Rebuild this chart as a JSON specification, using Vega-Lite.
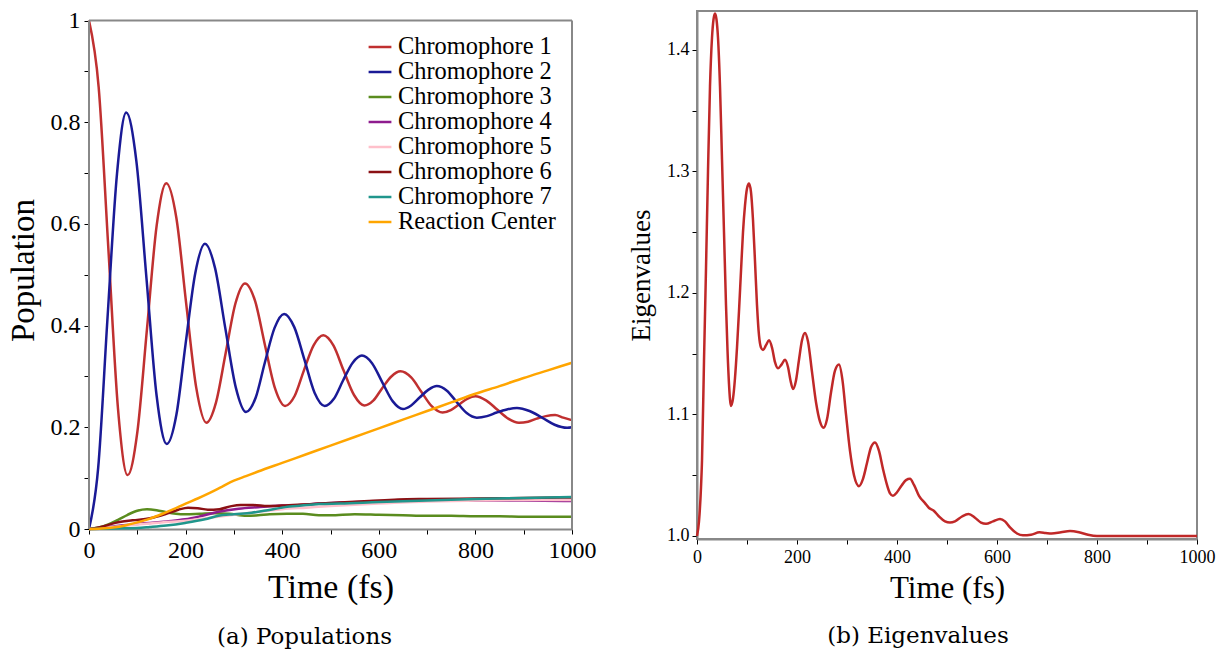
{
"$schema": "https://vega.github.io/schema/vega-lite/v6.json",
"padding": {"left": 7, "top": 7, "right": 0, "bottom": 0},
"resolve": {"legend": {"color": "independent"}, "scale": {"x": "independent", "y": "independent", "color": "independent"}},
"datasets": {
"pop": [
{"t":0,"v":1.0,"s":"Chromophore 1"},{"t":20,"v":0.869,"s":"Chromophore 1"},{"t":40,"v":0.553,"s":"Chromophore 1"},{"t":60,"v":0.237,"s":"Chromophore 1"},{"t":80,"v":0.106,"s":"Chromophore 1"},{"t":100,"v":0.19,"s":"Chromophore 1"},{"t":120,"v":0.393,"s":"Chromophore 1"},{"t":140,"v":0.596,"s":"Chromophore 1"},{"t":160,"v":0.68,"s":"Chromophore 1"},{"t":181,"v":0.611,"s":"Chromophore 1"},{"t":201,"v":0.445,"s":"Chromophore 1"},{"t":222,"v":0.278,"s":"Chromophore 1"},{"t":243,"v":0.209,"s":"Chromophore 1"},{"t":263,"v":0.249,"s":"Chromophore 1"},{"t":283,"v":0.346,"s":"Chromophore 1"},{"t":303,"v":0.443,"s":"Chromophore 1"},{"t":323,"v":0.483,"s":"Chromophore 1"},{"t":344,"v":0.448,"s":"Chromophore 1"},{"t":364,"v":0.363,"s":"Chromophore 1"},{"t":385,"v":0.277,"s":"Chromophore 1"},{"t":406,"v":0.242,"s":"Chromophore 1"},{"t":426,"v":0.262,"s":"Chromophore 1"},{"t":445,"v":0.312,"s":"Chromophore 1"},{"t":465,"v":0.361,"s":"Chromophore 1"},{"t":485,"v":0.381,"s":"Chromophore 1"},{"t":506,"v":0.361,"s":"Chromophore 1"},{"t":527,"v":0.312,"s":"Chromophore 1"},{"t":549,"v":0.263,"s":"Chromophore 1"},{"t":570,"v":0.243,"s":"Chromophore 1"},{"t":589,"v":0.253,"s":"Chromophore 1"},{"t":607,"v":0.277,"s":"Chromophore 1"},{"t":626,"v":0.3,"s":"Chromophore 1"},{"t":645,"v":0.31,"s":"Chromophore 1"},{"t":667,"v":0.298,"s":"Chromophore 1"},{"t":688,"v":0.27,"s":"Chromophore 1"},{"t":710,"v":0.241,"s":"Chromophore 1"},{"t":732,"v":0.229,"s":"Chromophore 1"},{"t":749,"v":0.234,"s":"Chromophore 1"},{"t":766,"v":0.245,"s":"Chromophore 1"},{"t":783,"v":0.256,"s":"Chromophore 1"},{"t":800,"v":0.261,"s":"Chromophore 1"},{"t":822,"v":0.253,"s":"Chromophore 1"},{"t":845,"v":0.235,"s":"Chromophore 1"},{"t":868,"v":0.217,"s":"Chromophore 1"},{"t":890,"v":0.209,"s":"Chromophore 1"},{"t":909,"v":0.211,"s":"Chromophore 1"},{"t":927,"v":0.217,"s":"Chromophore 1"},{"t":946,"v":0.222,"s":"Chromophore 1"},{"t":965,"v":0.224,"s":"Chromophore 1"},{"t":982,"v":0.219,"s":"Chromophore 1"},{"t":1000,"v":0.214,"s":"Chromophore 1"},
{"t":0,"v":0.0,"s":"Chromophore 2"},{"t":19,"v":0.12,"s":"Chromophore 2"},{"t":38,"v":0.41,"s":"Chromophore 2"},{"t":58,"v":0.699,"s":"Chromophore 2"},{"t":77,"v":0.819,"s":"Chromophore 2"},{"t":98,"v":0.724,"s":"Chromophore 2"},{"t":119,"v":0.493,"s":"Chromophore 2"},{"t":140,"v":0.262,"s":"Chromophore 2"},{"t":161,"v":0.167,"s":"Chromophore 2"},{"t":181,"v":0.225,"s":"Chromophore 2"},{"t":200,"v":0.364,"s":"Chromophore 2"},{"t":220,"v":0.503,"s":"Chromophore 2"},{"t":240,"v":0.561,"s":"Chromophore 2"},{"t":261,"v":0.513,"s":"Chromophore 2"},{"t":282,"v":0.396,"s":"Chromophore 2"},{"t":304,"v":0.278,"s":"Chromophore 2"},{"t":325,"v":0.23,"s":"Chromophore 2"},{"t":345,"v":0.258,"s":"Chromophore 2"},{"t":364,"v":0.327,"s":"Chromophore 2"},{"t":384,"v":0.395,"s":"Chromophore 2"},{"t":404,"v":0.423,"s":"Chromophore 2"},{"t":425,"v":0.397,"s":"Chromophore 2"},{"t":446,"v":0.333,"s":"Chromophore 2"},{"t":467,"v":0.268,"s":"Chromophore 2"},{"t":488,"v":0.242,"s":"Chromophore 2"},{"t":507,"v":0.256,"s":"Chromophore 2"},{"t":526,"v":0.292,"s":"Chromophore 2"},{"t":546,"v":0.327,"s":"Chromophore 2"},{"t":565,"v":0.341,"s":"Chromophore 2"},{"t":586,"v":0.326,"s":"Chromophore 2"},{"t":607,"v":0.289,"s":"Chromophore 2"},{"t":629,"v":0.251,"s":"Chromophore 2"},{"t":650,"v":0.236,"s":"Chromophore 2"},{"t":667,"v":0.243,"s":"Chromophore 2"},{"t":685,"v":0.259,"s":"Chromophore 2"},{"t":703,"v":0.274,"s":"Chromophore 2"},{"t":720,"v":0.281,"s":"Chromophore 2"},{"t":741,"v":0.272,"s":"Chromophore 2"},{"t":761,"v":0.25,"s":"Chromophore 2"},{"t":782,"v":0.228,"s":"Chromophore 2"},{"t":803,"v":0.219,"s":"Chromophore 2"},{"t":824,"v":0.222,"s":"Chromophore 2"},{"t":844,"v":0.229,"s":"Chromophore 2"},{"t":865,"v":0.235,"s":"Chromophore 2"},{"t":886,"v":0.238,"s":"Chromophore 2"},{"t":912,"v":0.232,"s":"Chromophore 2"},{"t":938,"v":0.219,"s":"Chromophore 2"},{"t":964,"v":0.205,"s":"Chromophore 2"},{"t":990,"v":0.199,"s":"Chromophore 2"},{"t":1000,"v":0.2,"s":"Chromophore 2"},
{"t":0,"v":0.0,"s":"Chromophore 3"},{"t":20,"v":0.003,"s":"Chromophore 3"},{"t":40,"v":0.009,"s":"Chromophore 3"},{"t":60,"v":0.018,"s":"Chromophore 3"},{"t":80,"v":0.028,"s":"Chromophore 3"},{"t":100,"v":0.036,"s":"Chromophore 3"},{"t":120,"v":0.039,"s":"Chromophore 3"},{"t":140,"v":0.037,"s":"Chromophore 3"},{"t":160,"v":0.033,"s":"Chromophore 3"},{"t":180,"v":0.03,"s":"Chromophore 3"},{"t":200,"v":0.029,"s":"Chromophore 3"},{"t":230,"v":0.03,"s":"Chromophore 3"},{"t":260,"v":0.031,"s":"Chromophore 3"},{"t":290,"v":0.03,"s":"Chromophore 3"},{"t":326,"v":0.026,"s":"Chromophore 3"},{"t":350,"v":0.027,"s":"Chromophore 3"},{"t":374,"v":0.029,"s":"Chromophore 3"},{"t":410,"v":0.03,"s":"Chromophore 3"},{"t":443,"v":0.03,"s":"Chromophore 3"},{"t":476,"v":0.027,"s":"Chromophore 3"},{"t":500,"v":0.027,"s":"Chromophore 3"},{"t":550,"v":0.029,"s":"Chromophore 3"},{"t":600,"v":0.028,"s":"Chromophore 3"},{"t":650,"v":0.027,"s":"Chromophore 3"},{"t":700,"v":0.026,"s":"Chromophore 3"},{"t":750,"v":0.026,"s":"Chromophore 3"},{"t":800,"v":0.025,"s":"Chromophore 3"},{"t":850,"v":0.025,"s":"Chromophore 3"},{"t":900,"v":0.024,"s":"Chromophore 3"},{"t":950,"v":0.024,"s":"Chromophore 3"},{"t":1000,"v":0.024,"s":"Chromophore 3"},
{"t":0,"v":0.0,"s":"Chromophore 4"},{"t":50,"v":0.005,"s":"Chromophore 4"},{"t":100,"v":0.01,"s":"Chromophore 4"},{"t":126,"v":0.012,"s":"Chromophore 4"},{"t":160,"v":0.015,"s":"Chromophore 4"},{"t":199,"v":0.019,"s":"Chromophore 4"},{"t":230,"v":0.025,"s":"Chromophore 4"},{"t":268,"v":0.034,"s":"Chromophore 4"},{"t":310,"v":0.04,"s":"Chromophore 4"},{"t":350,"v":0.043,"s":"Chromophore 4"},{"t":400,"v":0.046,"s":"Chromophore 4"},{"t":440,"v":0.047,"s":"Chromophore 4"},{"t":476,"v":0.05,"s":"Chromophore 4"},{"t":520,"v":0.052,"s":"Chromophore 4"},{"t":600,"v":0.054,"s":"Chromophore 4"},{"t":700,"v":0.056,"s":"Chromophore 4"},{"t":800,"v":0.056,"s":"Chromophore 4"},{"t":900,"v":0.056,"s":"Chromophore 4"},{"t":1000,"v":0.055,"s":"Chromophore 4"},
{"t":0,"v":0.0,"s":"Chromophore 5"},{"t":50,"v":0.004,"s":"Chromophore 5"},{"t":100,"v":0.009,"s":"Chromophore 5"},{"t":150,"v":0.013,"s":"Chromophore 5"},{"t":199,"v":0.016,"s":"Chromophore 5"},{"t":250,"v":0.022,"s":"Chromophore 5"},{"t":300,"v":0.028,"s":"Chromophore 5"},{"t":350,"v":0.034,"s":"Chromophore 5"},{"t":400,"v":0.039,"s":"Chromophore 5"},{"t":450,"v":0.042,"s":"Chromophore 5"},{"t":500,"v":0.045,"s":"Chromophore 5"},{"t":600,"v":0.05,"s":"Chromophore 5"},{"t":700,"v":0.054,"s":"Chromophore 5"},{"t":800,"v":0.056,"s":"Chromophore 5"},{"t":900,"v":0.057,"s":"Chromophore 5"},{"t":1000,"v":0.057,"s":"Chromophore 5"},
{"t":0,"v":0.0,"s":"Chromophore 6"},{"t":25,"v":0.004,"s":"Chromophore 6"},{"t":55,"v":0.012,"s":"Chromophore 6"},{"t":90,"v":0.017,"s":"Chromophore 6"},{"t":126,"v":0.021,"s":"Chromophore 6"},{"t":160,"v":0.03,"s":"Chromophore 6"},{"t":185,"v":0.038,"s":"Chromophore 6"},{"t":205,"v":0.042,"s":"Chromophore 6"},{"t":225,"v":0.041,"s":"Chromophore 6"},{"t":246,"v":0.038,"s":"Chromophore 6"},{"t":270,"v":0.039,"s":"Chromophore 6"},{"t":295,"v":0.045,"s":"Chromophore 6"},{"t":314,"v":0.047,"s":"Chromophore 6"},{"t":340,"v":0.047,"s":"Chromophore 6"},{"t":370,"v":0.045,"s":"Chromophore 6"},{"t":400,"v":0.046,"s":"Chromophore 6"},{"t":440,"v":0.048,"s":"Chromophore 6"},{"t":476,"v":0.05,"s":"Chromophore 6"},{"t":520,"v":0.052,"s":"Chromophore 6"},{"t":580,"v":0.055,"s":"Chromophore 6"},{"t":640,"v":0.058,"s":"Chromophore 6"},{"t":700,"v":0.059,"s":"Chromophore 6"},{"t":800,"v":0.06,"s":"Chromophore 6"},{"t":900,"v":0.061,"s":"Chromophore 6"},{"t":1000,"v":0.062,"s":"Chromophore 6"},
{"t":0,"v":0.0,"s":"Chromophore 7"},{"t":50,"v":0.001,"s":"Chromophore 7"},{"t":100,"v":0.002,"s":"Chromophore 7"},{"t":126,"v":0.004,"s":"Chromophore 7"},{"t":160,"v":0.007,"s":"Chromophore 7"},{"t":199,"v":0.012,"s":"Chromophore 7"},{"t":240,"v":0.019,"s":"Chromophore 7"},{"t":268,"v":0.026,"s":"Chromophore 7"},{"t":300,"v":0.029,"s":"Chromophore 7"},{"t":337,"v":0.032,"s":"Chromophore 7"},{"t":370,"v":0.037,"s":"Chromophore 7"},{"t":406,"v":0.043,"s":"Chromophore 7"},{"t":440,"v":0.046,"s":"Chromophore 7"},{"t":476,"v":0.049,"s":"Chromophore 7"},{"t":520,"v":0.05,"s":"Chromophore 7"},{"t":600,"v":0.053,"s":"Chromophore 7"},{"t":700,"v":0.056,"s":"Chromophore 7"},{"t":800,"v":0.059,"s":"Chromophore 7"},{"t":900,"v":0.061,"s":"Chromophore 7"},{"t":1000,"v":0.063,"s":"Chromophore 7"},
{"t":0,"v":0.0,"s":"Reaction Center"},{"t":25,"v":0.001,"s":"Reaction Center"},{"t":50,"v":0.003,"s":"Reaction Center"},{"t":75,"v":0.007,"s":"Reaction Center"},{"t":100,"v":0.013,"s":"Reaction Center"},{"t":125,"v":0.02,"s":"Reaction Center"},{"t":150,"v":0.029,"s":"Reaction Center"},{"t":175,"v":0.039,"s":"Reaction Center"},{"t":200,"v":0.05,"s":"Reaction Center"},{"t":225,"v":0.06,"s":"Reaction Center"},{"t":250,"v":0.071,"s":"Reaction Center"},{"t":275,"v":0.083,"s":"Reaction Center"},{"t":300,"v":0.095,"s":"Reaction Center"},{"t":325,"v":0.104,"s":"Reaction Center"},{"t":350,"v":0.113,"s":"Reaction Center"},{"t":400,"v":0.13,"s":"Reaction Center"},{"t":450,"v":0.147,"s":"Reaction Center"},{"t":500,"v":0.164,"s":"Reaction Center"},{"t":550,"v":0.181,"s":"Reaction Center"},{"t":600,"v":0.198,"s":"Reaction Center"},{"t":650,"v":0.215,"s":"Reaction Center"},{"t":700,"v":0.232,"s":"Reaction Center"},{"t":750,"v":0.249,"s":"Reaction Center"},{"t":800,"v":0.266,"s":"Reaction Center"},{"t":850,"v":0.281,"s":"Reaction Center"},{"t":900,"v":0.297,"s":"Reaction Center"},{"t":950,"v":0.312,"s":"Reaction Center"},{"t":1000,"v":0.327,"s":"Reaction Center"}
],
"eig": [
{"t":0,"v":1.0},{"t":4,"v":1.012},{"t":8,"v":1.04},{"t":10,"v":1.062},{"t":14,"v":1.144},{"t":18,"v":1.22},{"t":22,"v":1.3},{"t":26,"v":1.37},{"t":30,"v":1.41},{"t":33,"v":1.425},{"t":36,"v":1.43},{"t":39,"v":1.425},{"t":42,"v":1.41},{"t":46,"v":1.37},{"t":50,"v":1.31},{"t":54,"v":1.25},{"t":58,"v":1.19},{"t":61,"v":1.153},{"t":64,"v":1.125},{"t":68,"v":1.107},{"t":72,"v":1.113},{"t":76,"v":1.13},{"t":80,"v":1.155},{"t":84,"v":1.185},{"t":88,"v":1.218},{"t":92,"v":1.25},{"t":96,"v":1.272},{"t":100,"v":1.286},{"t":104,"v":1.29},{"t":108,"v":1.283},{"t":112,"v":1.26},{"t":116,"v":1.226},{"t":120,"v":1.19},{"t":124,"v":1.165},{"t":128,"v":1.155},{"t":132,"v":1.153},{"t":138,"v":1.157},{"t":144,"v":1.161},{"t":150,"v":1.155},{"t":156,"v":1.143},{"t":162,"v":1.138},{"t":169,"v":1.141},{"t":176,"v":1.145},{"t":182,"v":1.139},{"t":187,"v":1.128},{"t":192,"v":1.121},{"t":198,"v":1.128},{"t":204,"v":1.145},{"t":210,"v":1.161},{"t":216,"v":1.167},{"t":222,"v":1.16},{"t":230,"v":1.135},{"t":238,"v":1.11},{"t":246,"v":1.094},{"t":253,"v":1.089},{"t":260,"v":1.096},{"t":268,"v":1.118},{"t":276,"v":1.136},{"t":284,"v":1.141},{"t":291,"v":1.128},{"t":298,"v":1.1},{"t":306,"v":1.07},{"t":314,"v":1.05},{"t":324,"v":1.041},{"t":332,"v":1.047},{"t":340,"v":1.06},{"t":348,"v":1.073},{"t":356,"v":1.077},{"t":364,"v":1.07},{"t":372,"v":1.055},{"t":380,"v":1.042},{"t":386,"v":1.035},{"t":392,"v":1.033},{"t":400,"v":1.036},{"t":410,"v":1.042},{"t":418,"v":1.046},{"t":426,"v":1.047},{"t":434,"v":1.042},{"t":444,"v":1.033},{"t":456,"v":1.027},{"t":464,"v":1.023},{"t":473,"v":1.021},{"t":484,"v":1.016},{"t":496,"v":1.012},{"t":506,"v":1.011},{"t":516,"v":1.012},{"t":530,"v":1.016},{"t":543,"v":1.018},{"t":556,"v":1.015},{"t":568,"v":1.011},{"t":578,"v":1.01},{"t":592,"v":1.012},{"t":606,"v":1.014},{"t":616,"v":1.012},{"t":626,"v":1.007},{"t":640,"v":1.002},{"t":652,"v":1.0005},{"t":668,"v":1.001},{"t":685,"v":1.003},{"t":697,"v":1.0025},{"t":709,"v":1.002},{"t":728,"v":1.003},{"t":746,"v":1.004},{"t":764,"v":1.003},{"t":782,"v":1.001},{"t":800,"v":1.0},{"t":850,"v":1.0},{"t":900,"v":1.0},{"t":950,"v":1.0},{"t":1000,"v":1.0}
]
},
"config": {
"font": "Liberation Serif",
"view": {"stroke": "#888888", "strokeWidth": 2},
"axis": {"grid": false, "domainColor": "#888888", "domainWidth": 2, "tickColor": "#000000", "tickSize": 5, "tickWidth": 1, "labelColor": "#000000", "titleColor": "#000000", "labelFont": "Liberation Serif", "titleFont": "Liberation Serif", "titleFontWeight": "normal", "labelFlush": false, "labelOverlap": false},
"concat": {"spacing": 30}
},
"hconcat": [
{
"width": 483, "height": 518,
"view": {"stroke": null},
"title": {"text": "(a) Populations", "orient": "bottom", "font": "DejaVu Serif", "fontSize": 23, "fontWeight": "normal", "color": "#000000", "dx": -26, "offset": 22},
"layer": [
{"data": {"name": "pop"},
 "mark": {"type": "line", "strokeWidth": 2.5, "interpolate": "monotone"},
 "encoding": {
  "x": {"field": "t", "type": "quantitative", "title": "Time (fs)", "scale": {"domain": [0, 1000], "nice": false}, "axis": {"values": [0,100,200,300,400,500,600,700,800,900,1000], "format": "d", "labelExpr": "datum.value % 200 == 0 ? datum.label : ''", "labelFontSize": 24, "titleFontSize": 34, "labelPadding": 4, "titlePadding": 8}},
  "y": {"field": "v", "type": "quantitative", "title": "Population", "scale": {"domain": [0, 1.0187], "nice": false, "zero": false}, "axis": {"values": [0,0.1,0.2,0.3,0.4,0.5,0.6,0.7,0.8,0.9,1], "format": "~g", "labelExpr": "round(datum.value * 10) % 2 == 0 ? datum.label : ''", "domain": false, "labelFontSize": 24, "titleFontSize": 33, "labelPadding": 4, "titlePadding": 10}},
  "color": {"field": "s", "type": "nominal",
   "scale": {"domain": ["Chromophore 1","Chromophore 2","Chromophore 3","Chromophore 4","Chromophore 5","Chromophore 6","Chromophore 7","Reaction Center"],
             "range": ["#c03030","#1a1a96","#5a8c1e","#8e1c8e","#ffc0cb","#8b1014","#20968c","#ffa500"]},
   "legend": {"title": null, "orient": "none", "legendX": 278, "legendY": 23, "labelFontSize": 24.4, "labelLimit": 400, "labelFont": "Liberation Serif", "labelColor": "#000000", "symbolType": "stroke", "symbolSize": 520, "symbolStrokeWidth": 2.5, "rowPadding": 0, "labelOffset": 5, "padding": 0}}
 }},
{"data": {"values": [{}]}, "mark": {"type": "rule", "color": "#888888", "strokeWidth": 2},
 "encoding": {"x": {"datum": 0, "title": "Time (fs)"}, "x2": {"datum": 1000}, "y": {"datum": 1, "title": "Population"}}},
{"data": {"values": [{}]}, "mark": {"type": "rule", "color": "#888888", "strokeWidth": 2},
 "encoding": {"x": {"datum": 1000, "title": "Time (fs)"}, "y": {"datum": 0, "title": "Population"}, "y2": {"datum": 1}}},
{"data": {"values": [{}]}, "mark": {"type": "rule", "color": "#888888", "strokeWidth": 2},
 "encoding": {"x": {"datum": 0, "title": "Time (fs)"}, "y": {"datum": 0, "title": "Population"}, "y2": {"datum": 1}}}
]
},
{
"width": 500, "height": 528,
"title": {"text": "(b) Eigenvalues", "orient": "bottom", "font": "DejaVu Serif", "fontSize": 23, "fontWeight": "normal", "color": "#000000", "dx": -29, "offset": 22},
"data": {"name": "eig"},
"mark": {"type": "line", "strokeWidth": 2.5, "interpolate": "monotone", "color": "#c02828"},
"encoding": {
 "x": {"field": "t", "type": "quantitative", "title": "Time (fs)", "scale": {"domain": [0, 1000], "nice": false}, "axis": {"values": [0,100,200,300,400,500,600,700,800,900,1000], "format": "d", "labelExpr": "datum.value % 200 == 0 ? datum.label : ''", "labelFontSize": 18, "titleFontSize": 31, "labelPadding": 4, "titlePadding": 7}},
 "y": {"field": "v", "type": "quantitative", "title": "Eigenvalues", "scale": {"domain": [0.9975, 1.432], "nice": false, "zero": false}, "axis": {"values": [1,1.05,1.1,1.15,1.2,1.25,1.3,1.35,1.4], "format": ".1f", "labelExpr": "round(datum.value * 100) % 10 == 0 ? datum.label : ''", "labelFontSize": 18, "titleFontSize": 27, "labelPadding": 3, "titlePadding": 11}}
}
}
]
}
